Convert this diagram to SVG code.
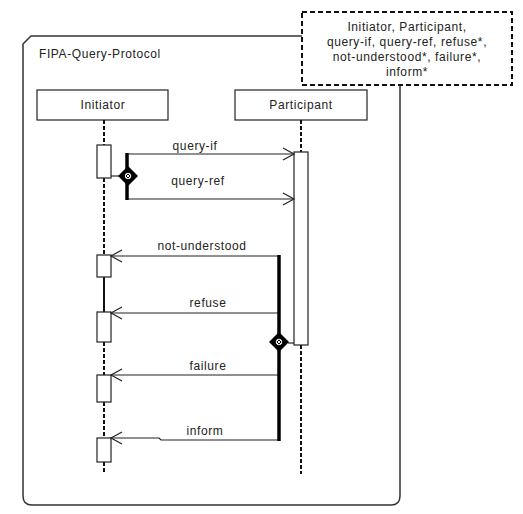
<svg xmlns="http://www.w3.org/2000/svg" width="523" height="514" viewBox="0 0 523 514">
<defs>
<style>
text{font-family:"Liberation Sans",Arial,sans-serif;font-size:12px;fill:#222;letter-spacing:0.6px}
.c{text-anchor:middle}
.box{fill:#fff;stroke:#222;stroke-width:1.2}
.act{fill:#fff;stroke:#222;stroke-width:1.2}
.life{stroke:#111;stroke-width:2;stroke-dasharray:4 2;fill:none}
.solid{stroke:#111;stroke-width:2;fill:none}
.msg{stroke:#222;stroke-width:1.2;fill:none}
.thick{stroke:#000;stroke-width:3.5;fill:none}
.dia{fill:#000}
.sym{stroke:#fff;stroke-width:1;fill:none}
</style>
<marker id="open" markerWidth="14" markerHeight="14" refX="12" refY="7" orient="auto" markerUnits="userSpaceOnUse">
<path d="M1,1 L12,7 L1,13" fill="none" stroke="#222" stroke-width="1.2"/>
</marker>
</defs>
<rect width="523" height="514" fill="#fff"/>
<g id="frame">
<path d="M23,44 L31,36 L391,36 Q400,36 400,45 L400,496 Q400,505 391,505 L32,505 Q23,505 23,496 Z" fill="none" stroke="#333" stroke-width="1.5"/>
<text x="39" y="58">FIPA-Query-Protocol</text>
</g>
<g id="note">
<rect x="302" y="12" width="210" height="73" fill="#fff" stroke="#111" stroke-width="2" stroke-dasharray="5 3"/>
<text class="c" x="407" y="31">Initiator, Participant,</text>
<text class="c" x="407" y="46">query-if, query-ref, refuse*,</text>
<text class="c" x="407" y="61">not-understood*, failure*,</text>
<text class="c" x="407" y="76">inform*</text>
</g>
<g id="initiator">
<rect class="box" x="37" y="90" width="131" height="30"/>
<text class="c" x="103" y="109">Initiator</text>
<path class="life" d="M104,120 V145 M104,178 V255 M104,342 V375 M104,402 V438 M104,462 V474"/>
<path class="solid" d="M104,277 V312"/>
<rect class="act" x="97" y="145" width="14" height="33"/>
<rect class="act" x="97" y="255" width="14" height="22"/>
<rect class="act" x="97" y="312" width="14" height="30"/>
<rect class="act" x="97" y="375" width="14" height="27"/>
<rect class="act" x="97" y="438" width="14" height="24"/>
</g>
<g id="participant">
<rect class="box" x="235" y="90" width="132" height="30"/>
<text class="c" x="301" y="109">Participant</text>
<path class="life" d="M301,120 V152 M301,345 V474"/>
<rect class="act" x="294" y="152" width="14" height="193"/>
</g>
<g id="connectors">
<path class="msg" d="M127,154 H294" marker-end="url(#open)"/>
<path class="msg" d="M127,199 H294" marker-end="url(#open)"/>
<path class="thick" d="M127,153 V200"/>
<path class="msg" d="M111,176 H119"/>
<path class="msg" d="M279,256 H111" marker-end="url(#open)"/>
<path class="msg" d="M279,313 H111" marker-end="url(#open)"/>
<path class="msg" d="M279,375 H111" marker-end="url(#open)"/>
<path class="msg" d="M279,440 H161 L159,438 H111" marker-end="url(#open)"/>
<path class="thick" d="M279,255 V441"/>
<path class="msg" d="M288,343 H294"/>
<text class="c" x="195" y="150">query-if</text>
<text class="c" x="198" y="185">query-ref</text>
<text class="c" x="202" y="250">not-understood</text>
<text class="c" x="208" y="307">refuse</text>
<text class="c" x="208" y="370">failure</text>
<text class="c" x="205" y="435">inform</text>
</g>
<g id="decision1">
<path class="dia" d="M128,166 L138,176 L128,186 L118,176 Z"/>
<circle class="sym" cx="128" cy="176" r="2.8"/>
<path class="sym" d="M126,174 L130,178 M130,174 L126,178"/>
</g>
<g id="decision2">
<path class="dia" d="M279,332 L289,342 L279,352 L269,342 Z"/>
<circle class="sym" cx="279" cy="342" r="2.8"/>
<path class="sym" d="M277,340 L281,344 M281,340 L277,344"/>
</g>
</svg>
